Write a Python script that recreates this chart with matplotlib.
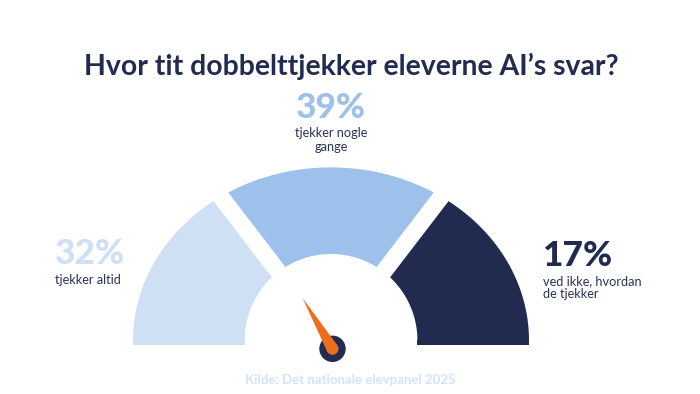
import numpy as np
import matplotlib.pyplot as plt
from matplotlib.patches import Polygon, Rectangle, Circle

# data
labels = ["tjekker altid", "tjekker nogle\ngange", "ved ikke, hvordan\nde tjekker"]
values = [32, 39, 17]
colors = ["#cfe0f5", "#9dc1ea", "#212b4f"]
title = "Hvor tit dobbelttjekker eleverne AI\u2019s svar?"
source = "Kilde: Det nationale elevpanel 2025"

# gauge layout (pixel coords, y down)
cx, cy = 331, 340.4
r_out_x, r_out_y = 198, 173
r_in = 86.4
bottom = 345
seg_angles = [(180, 127.5), (127.5, 52.5), (52.5, 0)]
gap_px = 17
navy = "#222b50"
orange = "#ec6d1e"

plt.rcParams['font.family'] = ['Lato', 'DejaVu Sans']

fig = plt.figure(figsize=(7, 3.94), dpi=100)
ax = fig.add_axes([0, 0, 1, 1])
ax.set_xlim(0, 700)
ax.set_ylim(394, 0)
ax.axis('off')


def outer_r(th):
    # polar radius of the outer (slightly flattened) edge
    return 1 / np.sqrt((np.cos(th) / r_out_x) ** 2 + (np.sin(th) / r_out_y) ** 2)


for (a0, a1), c in zip(seg_angles, colors):
    th = np.radians(np.linspace(a1, a0, 150))
    ro = outer_r(th)
    outer = np.column_stack([cx + ro * np.cos(th), cy - ro * np.sin(th)])
    inner = np.column_stack([cx + r_in * np.cos(th[::-1]), cy - r_in * np.sin(th[::-1])])
    ax.add_patch(Polygon(np.vstack([outer, inner]), closed=True, color=c, lw=0, zorder=1))
    # small flat extension below the centre line
    if a0 == 180:
        ax.add_patch(Rectangle((cx - r_out_x, cy - 0.5), r_out_x - r_in, bottom - cy + 0.5, color=c, lw=0, zorder=1))
    if a1 == 0:
        ax.add_patch(Rectangle((cx + r_in, cy - 0.5), r_out_x - r_in, bottom - cy + 0.5, color=c, lw=0, zorder=1))

# white gaps between segments
for a0, a1 in seg_angles[1:]:
    t = np.radians(a0)
    ax.plot([cx, cx + 240 * np.cos(t)], [cy, cy - 240 * np.sin(t)],
            color="white", lw=gap_px * 0.72, solid_capstyle='butt', zorder=2)

# needle
hx, hy = 332.5, 348.8
needle_deg = 120.5
t = np.radians(needle_deg)
tip = (hx + 59 * np.cos(t), hy - 59 * np.sin(t))
px, py = np.sin(t) * 6, np.cos(t) * 6
ax.add_patch(Circle((hx, hy), 13.2, color=navy, lw=0, zorder=3))
ax.add_patch(Polygon([(hx - px, hy - py), (hx + px, hy + py), tip], closed=True, color=orange, lw=0, zorder=4))
ax.add_patch(Circle((hx, hy), 6, color=orange, lw=0, zorder=4))

# texts
ax.text(351, 75, title, ha='center', va='baseline', fontsize=20.4, fontweight='bold', color=navy)

pct_pos = [(55, 264.5, 'left'), (331, 118.3, 'center'), (543, 265.5, 'left')]
lab_pos = [(55, 284.5), (331, 137.3), (543, 285)]
for lab, v, c, (x, y, ha), (lx, ly) in zip(labels, values, colors, pct_pos, lab_pos):
    ax.text(x, y, f"{v}%", ha=ha, va='baseline', fontsize=25.5, fontweight='black', color=c)
    for k, line in enumerate(lab.split("\n")):
        ax.text(lx, ly + k * 13.5, line, ha=ha, va='baseline', fontsize=9.2, color="#2b3357")

ax.text(350, 384, source, ha='center', va='baseline', fontsize=9.5, fontweight='bold', color="#d5e3f6")

fig.savefig("out.png", dpi=100)
